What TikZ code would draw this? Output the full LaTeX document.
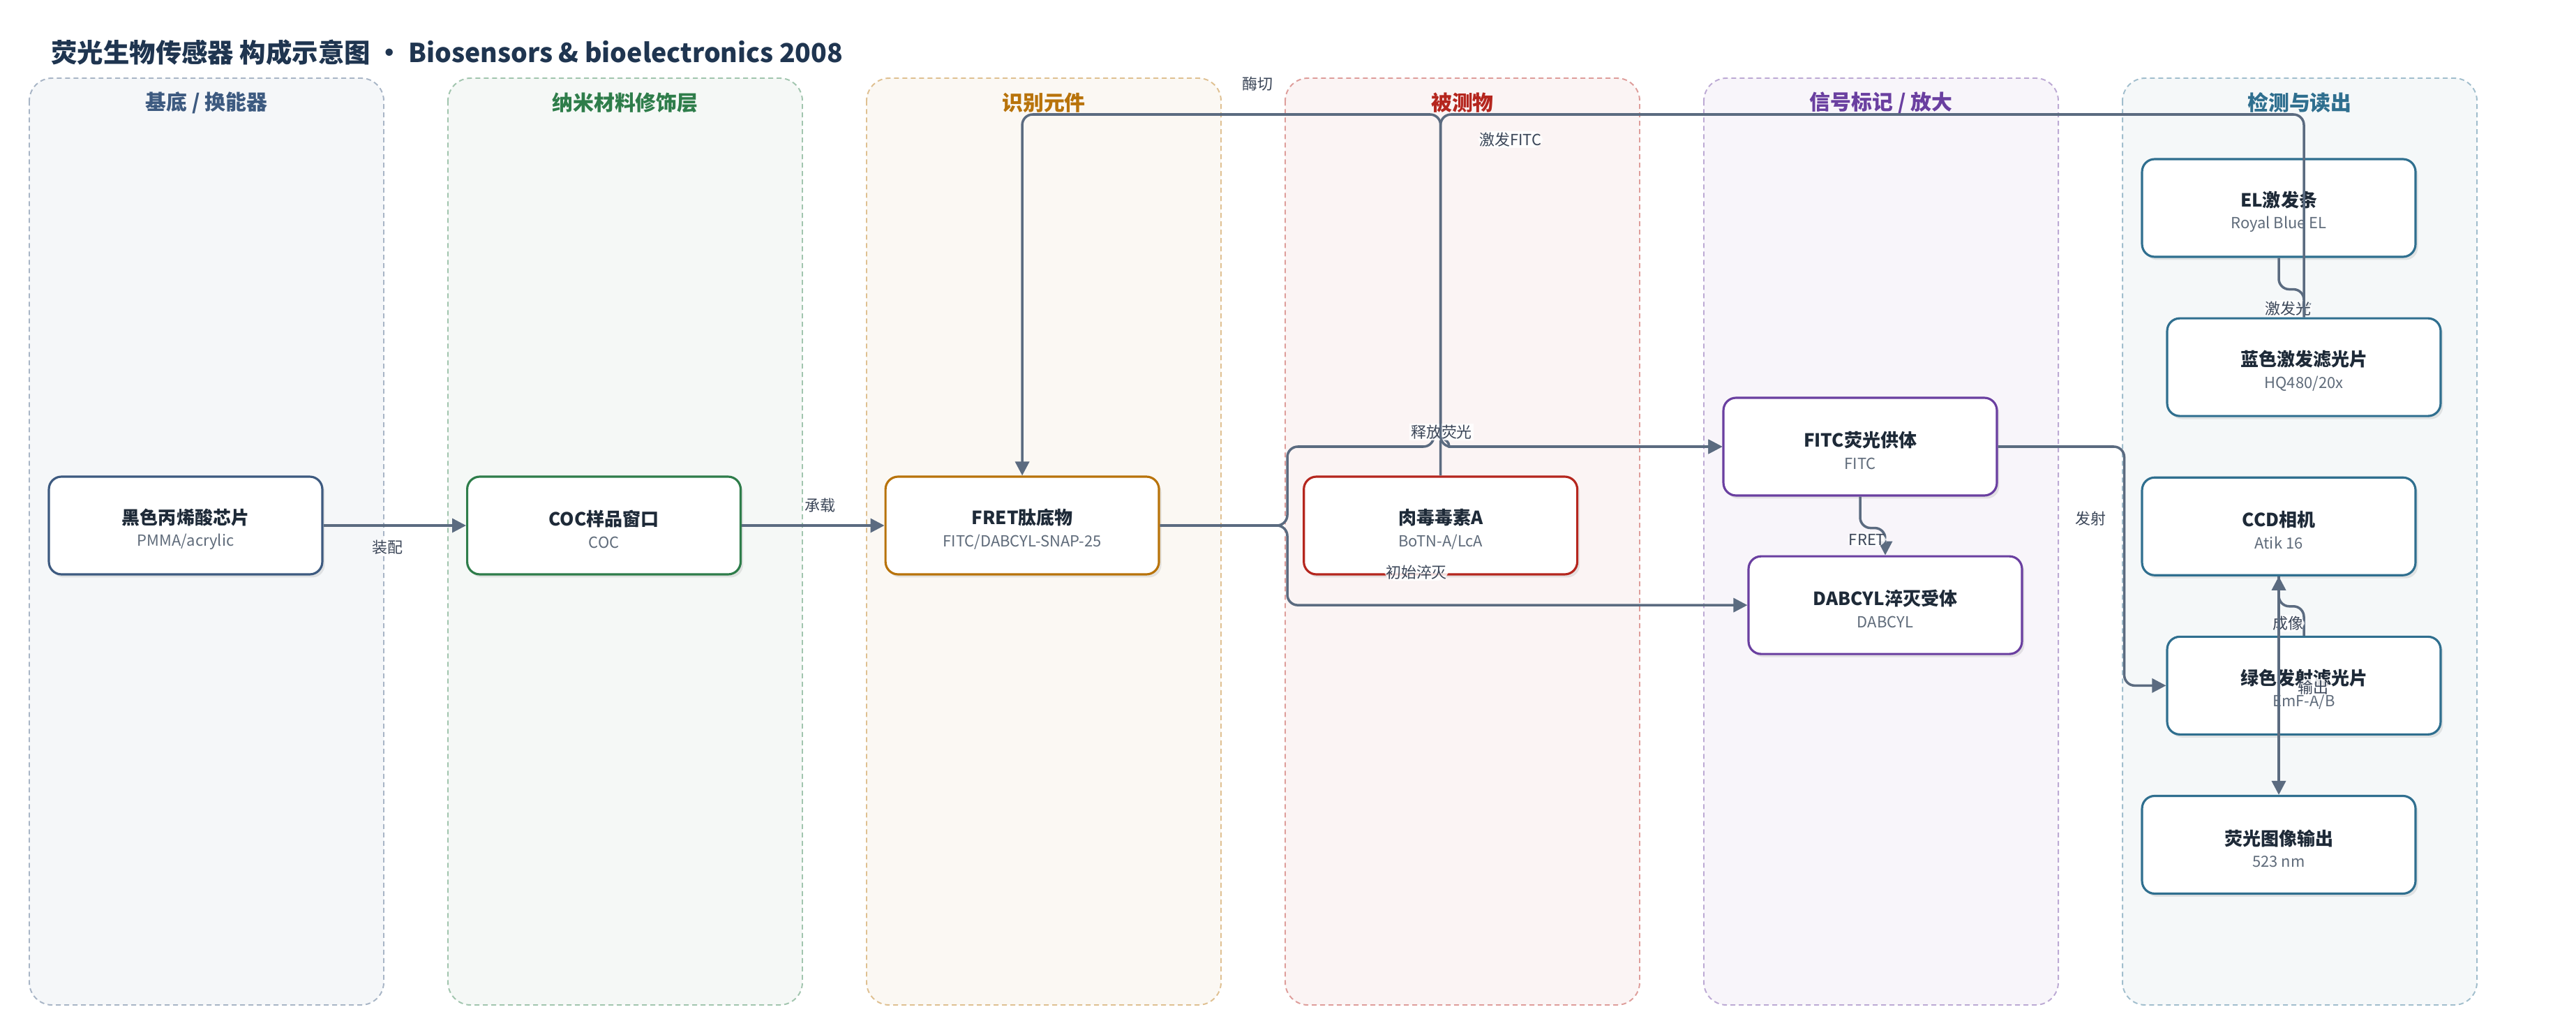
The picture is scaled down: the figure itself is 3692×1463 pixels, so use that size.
\documentclass[tikz,border=0pt]{standalone}
\usepackage{fontspec}
\setmainfont{Noto Sans CJK SC}
\usetikzlibrary{positioning, arrows.meta, shadows}

\definecolor{baseC}{HTML}{3D5A80}
\definecolor{nanoC}{HTML}{2E7D4A}
\definecolor{recogC}{HTML}{B8730A}
\definecolor{targetC}{HTML}{B5261E}
\definecolor{signalC}{HTML}{6A3FA0}
\definecolor{readC}{HTML}{2F6F8F}
\definecolor{flowC}{HTML}{5B6B80}
\definecolor{inkC}{HTML}{1E2A38}
\definecolor{subC}{HTML}{5F6B7A}
\definecolor{noteC}{HTML}{3B4658}
\definecolor{headC}{HTML}{1F3550}

\newcommand{\boxtext}[2]{{\bfseries\fontsize{14.8}{18}\selectfont\color{inkC}\rule{0pt}{19pt}#1}\\[6pt]{\fontsize{12.5}{15}\selectfont\color{subC}#2}}

\tikzset{
    x=0.02cm, y=-0.02cm,                        % one unit = one pixel of the sketch, y downwards
    >={Triangle[length=0.4cm, width=0.4cm]},    % filled arrow heads
    node distance = 1.70cm and 4.09cm,          % gaps between the boxes
    lanebox/.style={line width=1.1pt, dash pattern=on 0.14cm off 0.1cm, rounded corners=0.65cm},
    lanehead/.style={font=\bfseries\fontsize{17}{20}\selectfont},
    partbox/.style={draw, fill=white, line width=1.8pt, rounded corners=0.36cm,
        minimum width=7.84cm, minimum height=2.8cm, align=center,
        drop shadow={shadow xshift=0.07cm, shadow yshift=-0.09cm, opacity=0.18}},
    flowline/.style={->, draw=flowC, line width=2pt, rounded corners=0.3cm},
    edgetag/.style={fill=white, fill opacity=0.85, text opacity=1, text=noteC,
        font=\fontsize{12.5}{15}\selectfont, inner sep=1pt}
}

\begin{document}
\begin{tikzpicture}
    \useasboundingbox (0,0) rectangle (3692,1463);

    % Title
    \node[anchor=west, inner sep=0pt, text=headC, font=\bfseries\fontsize{21.3}{26}\selectfont] (heading) at (73,75)
        {荧光生物传感器 构成示意图 · Biosensors \& bioelectronics 2008};

    % Lanes
    \foreach \i/\head/\col in {0/{基底 / 换能器}/baseC, 1/纳米材料修饰层/nanoC, 2/识别元件/recogC,
                               3/被测物/targetC, 4/{信号标记 / 放大}/signalC, 5/检测与读出/readC}{
        \draw[lanebox, draw=\col!45, fill=\col!5] (42+600*\i,112) rectangle (550+600*\i,1440);
        \node[lanehead, text=\col] (head\i) at (296+600*\i,147) {\head};
    }

    % Define nodes
    \node[partbox, draw=baseC] (chip) at (266,753) {\boxtext{黑色丙烯酸芯片}{PMMA/acrylic}};
    \node[partbox, draw=nanoC, right=of chip] (coc) {\boxtext{COC样品窗口}{COC}};
    \node[partbox, draw=recogC, right=of coc] (fret) {\boxtext{FRET肽底物}{FITC/DABCYL-SNAP-25}};
    \node[partbox, draw=targetC, right=of fret] (toxin) {\boxtext{肉毒毒素A}{BoTN-A/LcA}};
    \node[partbox, draw=signalC] (fitc) at (2666,640) {\boxtext{FITC荧光供体}{FITC}};
    \node[partbox, draw=signalC, below=1.68cm of fitc, xshift=0.72cm] (dabcyl) {\boxtext{DABCYL淬灭受体}{DABCYL}};
    \node[partbox, draw=readC] (el) at (3266,298) {\boxtext{EL激发条}{Royal Blue EL}};
    \node[partbox, draw=readC, below=of el, xshift=0.72cm] (exfilter) {\boxtext{蓝色激发滤光片}{HQ480/20x}};
    \node[partbox, draw=readC, below=of exfilter, xshift=-0.72cm] (ccd) {\boxtext{CCD相机}{Atik 16}};
    \node[partbox, draw=readC, below=of ccd, xshift=0.72cm] (emfilter) {\boxtext{绿色发射滤光片}{EmF-A/B}};
    \node[partbox, draw=readC, below=of emfilter, xshift=-0.72cm] (imgout) {\boxtext{荧光图像输出}{523 nm}};

    \coordinate (bus) at (0,164);

    % Draw transitions
    \draw[flowline] (chip) -- (coc) node[edgetag, midway, below=0.35cm, xshift=-0.2cm] {装配};
    \draw[flowline] (coc) -- (fret) node[edgetag, midway, above=0.3cm, xshift=0.2cm] {承载};
    \draw[flowline] (toxin.north) -- (toxin.north |- bus) -| (fret.north)
        node[edgetag] at (1802,120) {酶切};
    \draw[flowline] (fret.east) -- (1845,753) -- (1845,640) -- (2055,640) [sharp corners]
        .. controls (2055,626) and (2077,626) .. (2077,640) -- (fitc.west)
        node[edgetag] at (2066,619) {释放荧光};
    \draw[flowline] (fret.east) -- (1845,753) |- (dabcyl.west)
        node[edgetag] at (2030,820) {初始淬灭};
    \draw[flowline] (fitc.south) -- ++(0,45) -| (dabcyl.north)
        node[edgetag] at (2676,773) {FRET};
    \draw[flowline] (el.south) -- ++(0,45) -| (exfilter.north)
        node[edgetag] at (3279,442) {激发光};
    \draw[flowline] (exfilter.north) -- (exfilter.north |- bus) -- (toxin.north |- bus)
        -- (toxin.north |- fitc.west) -- (fitc.west)
        node[edgetag] at (2165,200) {激发FITC};
    \draw[flowline] (fitc.east) -- ++(181,0) |- (emfilter.west)
        node[edgetag] at (2996,743) {发射};
    \draw[flowline] (emfilter.north) -- ++(0,-42) -| (ccd.south)
        node[edgetag] at (3279,893) {成像};
    \draw[flowline] (ccd) -- (imgout) node[edgetag] at (3315,985) {输出};
\end{tikzpicture}
\end{document}
